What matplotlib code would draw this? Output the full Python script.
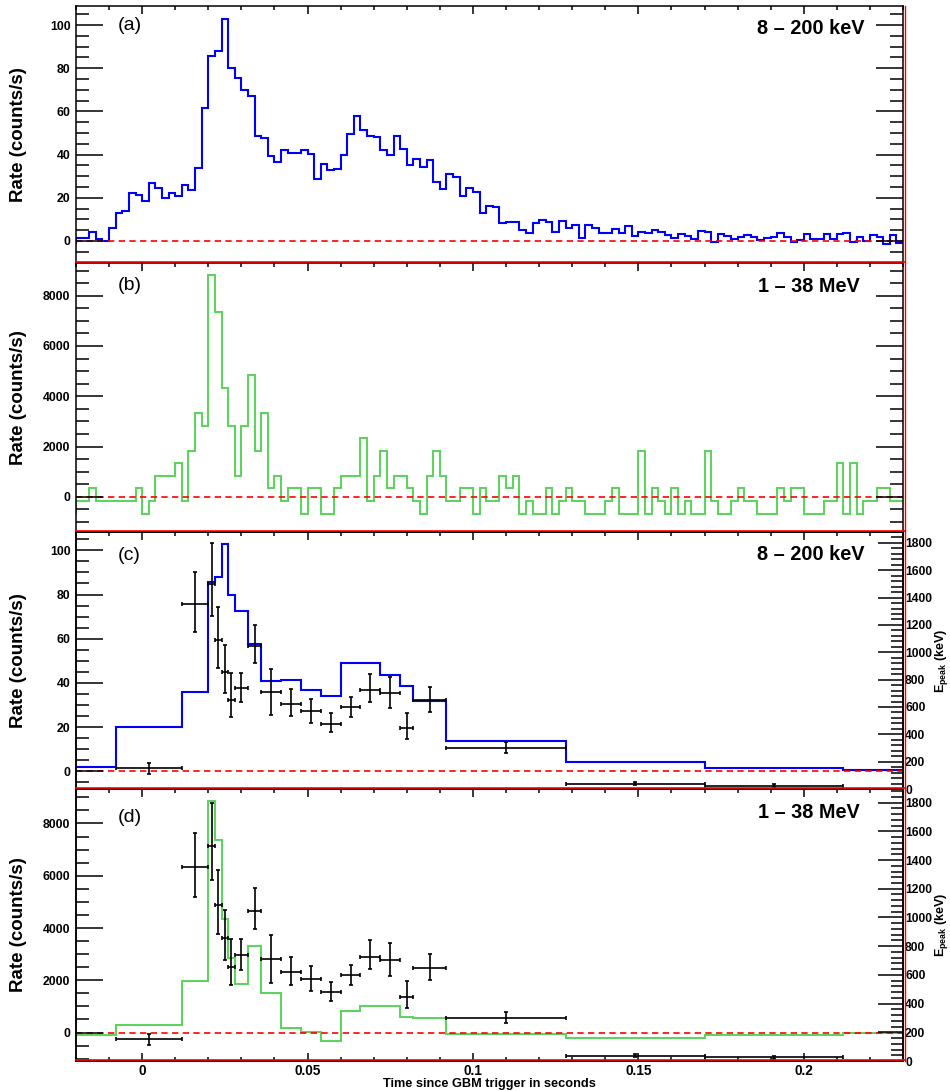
import numpy as np
import matplotlib
matplotlib.use("Agg")
import matplotlib.pyplot as plt
from matplotlib.lines import Line2D
from matplotlib.ticker import MultipleLocator, FixedLocator

plt.rcParams["font.family"] = ["Liberation Sans", "DejaVu Sans"]
plt.rcParams["mathtext.fontset"] = "custom"
plt.rcParams["mathtext.rm"] = "Liberation Sans:bold"
plt.rcParams["mathtext.bf"] = "Liberation Sans:bold"
plt.rcParams["mathtext.it"] = "Liberation Sans:bold"

# --- 2 ms light curves, first bin starts at t = -0.022 s (just left of the view) ---
bin_start = -0.022
bin_width = 0.002

rate_low = [  # 8 - 200 keV (counts/s)
    -1.0,
    1.5, 1.5, 4.2, 1.0, 0.0, 6.2, 12.8, 13.9, 22.4, 21.3,
    18.5, 26.7, 24.7, 19.9, 22.4, 20.8, 25.9, 23.5, 34.0, 61.4,
    85.5, 88.0, 103.0, 80.0, 75.5, 69.8, 67.0, 48.6, 47.5, 39.5,
    36.6, 42.0, 40.9, 40.9, 42.0, 40.4, 28.9, 35.8, 32.9, 33.3,
    40.0, 49.5, 58.0, 51.5, 48.5, 48.1, 42.0, 39.8, 48.8, 42.4,
    35.3, 37.8, 34.4, 37.5, 27.5, 23.9, 31.0, 29.5, 20.8, 24.7,
    22.8, 13.0, 16.4, 15.5, 8.4, 8.6, 9.0, 5.1, 3.5, 8.5,
    9.7, 9.0, 4.2, 9.3, 5.9, 7.6, 1.4, 7.6, 6.0, 3.7,
    3.9, 5.7, 3.5, 7.1, 2.5, 4.2, 3.9, 5.1, 4.2, 2.9,
    1.4, 3.4, 2.2, 0.9, 4.8, 4.2, -0.6, 3.4, 2.2, 0.8,
    1.7, 2.6, 1.7, 0.3, 1.2, 1.7, 3.5, 1.7, -0.6, 0.3,
    3.2, 0.8, 0.8, 3.1, 0.8, 3.4, 3.9, -0.6, 2.0, 0.2,
    2.8, 1.7, -1.5, 2.6, -0.8,
]

rate_high = [  # 1 - 38 MeV (counts/s)
    -665,
    -165, -165, 335, -165, -165, -165, -165, -165, -165, 335,
    -665, -165, 835, 835, 835, 1335, -165, 1835, 3335, 2835,
    8835, 7335, 4335, 2835, 835, 2835, 4835, 1835, 3335, 335,
    835, -165, 335, 335, -665, 335, 335, -665, -665, 335,
    835, 835, 835, 2335, -165, 835, 1835, 335, 835, 835,
    335, -165, -665, 835, 1835, 835, -165, -165, 335, 335,
    -665, 335, -165, -165, 835, 335, 835, -665, -165, -665,
    -665, 335, -665, -165, 335, -165, -165, -665, -665, -665,
    -165, 335, -665, -665, -665, 1835, -665, 335, -165, -665,
    335, -665, -165, -665, -665, 1835, -165, -665, -665, -165,
    335, -165, -165, -665, -665, -665, 335, -165, 335, 335,
    -665, -665, -665, -165, -165, 1335, -665, 1335, -665, -165,
    -165, 335, 335, -165, -165,
]

# --- Bayesian-block light curves ---
block_edges = [-0.02, -0.008, 0.012, 0.020, 0.022, 0.024, 0.026, 0.028,
               0.032, 0.036, 0.042, 0.048, 0.054, 0.060, 0.066, 0.072,
               0.078, 0.082, 0.092, 0.128, 0.170, 0.212, 0.23]
block_low = [1.8, 20.2, 36.1, 85.6, 87.9, 102.7, 79.8, 72.5, 57.8, 40.8,
             41.1, 37.0, 34.0, 48.9, 49.2, 43.6, 38.7, 31.6, 13.8, 4.1,
             1.5, 0.8]
block_high = [-77, 282, 1972, 8860, 7350, 4353, 2855, 1844, 3329, 1511,
              192, 10, -320, 832, 1024, 1024, 602, 538, -38, -218,
              -77, 0]

# --- Epeak per time interval (keV) ---
epeak_t = [0.002, 0.016, 0.021, 0.023, 0.025, 0.027, 0.030, 0.034, 0.039, 0.045,
           0.051, 0.057, 0.063, 0.069, 0.075, 0.080, 0.087, 0.110, 0.149, 0.191]
epeak_dt = [0.010, 0.004, 0.001, 0.001, 0.001, 0.001, 0.002, 0.002, 0.003, 0.003,
            0.003, 0.003, 0.003, 0.003, 0.003, 0.002, 0.005, 0.018, 0.021, 0.021]
epeak = [150, 1355, 1498, 1087, 855, 652, 736, 1045, 708, 623,
         570, 478, 597, 725, 701, 449, 649, 303, 38, 25]
epeak_lo = [40, 210, 235, 205, 152, 122, 103, 126, 167, 92,
            85, 63, 70, 85, 107, 80, 83, 38, 10, 8]
epeak_hi = [40, 235, 300, 241, 200, 195, 114, 157, 168, 105,
            90, 75, 75, 118, 118, 105, 95, 38, 10, 8]

panel_tags = ["(a)", "(b)", "(c)", "(d)"]
band_labels = ["8 \u2013 200 keV", "1 \u2013 38 MeV", "8 \u2013 200 keV", "1 \u2013 38 MeV"]
x_ticks = [0, 0.05, 0.1, 0.15, 0.2]
x_tick_labels = ["0", "0.05", "0.1", "0.15", "0.2"]

BLUE = "#0000ff"
GREEN = "#5fd35f"

W, H = 950, 1091
LEFT, RIGHT = 76, 903
panel_px = [(6, 263), (263, 532), (532, 789), (789, 1061)]
ylims = [(-10.2, 108.8), (-1400, 9300), (-8.0, 108.3), (-1090, 9320)]
epeak_lims = [None, None, (0, 1880), (0, 1895)]
tag_y = [0.926, 0.918, 0.907, 0.897]
band_y = [0.914, 0.912, 0.912, 0.914]
band_x = [0.954, 0.948, 0.954, 0.948]

fig = plt.figure(figsize=(W / 100, H / 100), dpi=100)

bin_edges = np.round(bin_start + bin_width * np.arange(len(rate_low) + 1), 4)

axes = []
for i, (top, bottom) in enumerate(panel_px):
    ax = fig.add_axes([LEFT / W, 1 - bottom / H, (RIGHT - LEFT) / W, (bottom - top) / H])
    axes.append(ax)
    ax.set_xlim(-0.02, 0.23)
    ax.set_ylim(*ylims[i])

    if i == 0:
        ax.stairs(rate_low, bin_edges, color=BLUE, lw=1.5, baseline=None)
    elif i == 1:
        ax.stairs(rate_high, bin_edges, color=GREEN, lw=1.5, baseline=None)
    elif i == 2:
        ax.stairs(block_low, block_edges, color=BLUE, lw=1.5, baseline=None)
    else:
        ax.stairs(block_high, block_edges, color=GREEN, lw=1.5, baseline=None)
    ax.axhline(0, color="red", lw=1.2, ls=(0, (3.8, 2.6)), zorder=1)

    # x axis
    ax.xaxis.set_major_locator(FixedLocator(x_ticks))
    ax.xaxis.set_minor_locator(MultipleLocator(0.01))
    is_last = i == 3
    ax.tick_params(axis="x", which="both", direction="in", top=True,
                   bottom=is_last, labelbottom=is_last, width=1.1)
    ax.tick_params(axis="x", which="major", length=6.0, labelsize=9.8, pad=2.0)
    ax.tick_params(axis="x", which="minor", length=3.0)
    if is_last:
        ax.set_xticklabels(x_tick_labels, fontweight="bold")

    # y axis
    if i in (0, 2):
        ax.yaxis.set_major_locator(MultipleLocator(20))
        ax.yaxis.set_minor_locator(MultipleLocator(5))
    else:
        ax.yaxis.set_major_locator(MultipleLocator(2000))
        ax.yaxis.set_minor_locator(MultipleLocator(500))
    mirror = i < 2
    ax.tick_params(axis="y", which="both", direction="in", left=True, right=mirror,
                   width=1.1, labelsize=8.8, pad=4)
    ax.tick_params(axis="y", which="major", length=19.5)
    ax.tick_params(axis="y", which="minor", length=9.5)
    for lab in ax.get_yticklabels():
        lab.set_fontweight("bold")
    for sp in ax.spines.values():
        sp.set_linewidth(1.1)

    ax.text(0.051, tag_y[i], panel_tags[i], transform=ax.transAxes,
            fontsize=14, ha="left", va="center")
    ax.text(band_x[i], band_y[i], band_labels[i], transform=ax.transAxes,
            fontsize=14.3, fontweight="bold", ha="right", va="center")

    cy = 1 - (top + bottom) / 2 / H

    # Epeak on a second axis for the block panels
    if epeak_lims[i] is not None:
        if i == 3:
            ax.tick_params(axis="y", which="both", right=False)
        tw = ax.twinx()
        tw.set_ylim(*epeak_lims[i])
        tw.errorbar(epeak_t, epeak, xerr=epeak_dt, yerr=[epeak_lo, epeak_hi],
                    fmt="none", ecolor="black", elinewidth=1.2, capsize=1.6,
                    capthick=1.2, zorder=3)
        tw.yaxis.set_major_locator(MultipleLocator(200))
        tw.yaxis.set_minor_locator(MultipleLocator(40))
        tw.tick_params(axis="y", which="both", direction="in", width=1.1,
                       labelsize=8.7, pad=1.5)
        tw.tick_params(axis="y", which="major", length=18)
        tw.tick_params(axis="y", which="minor", length=8.6)
        for lab in tw.get_yticklabels():
            lab.set_fontweight("bold")
        for sp in tw.spines.values():
            sp.set_linewidth(1.1)
        fig.text(942 / W, cy, r"$\mathbf{E_{peak}}$ (keV)", rotation=90,
                 fontsize=9, fontweight="bold", ha="center", va="center")

    fig.text(19 / W, cy, "Rate (counts/s)", rotation=90, fontsize=13.5,
             fontweight="bold", ha="center", va="center")

# red pad frame lines along the panel boundaries and the right edge
for _, bottom in panel_px:
    fig.add_artist(Line2D([LEFT / W, (RIGHT + 1.5) / W], [1 - (bottom - 1) / H] * 2,
                          color="red", lw=1.2, transform=fig.transFigure, zorder=10))
fig.add_artist(Line2D([(RIGHT + 1.5) / W] * 2, [1 - 6 / H, 1 - 1061 / H],
                      color="red", lw=1.0, transform=fig.transFigure, zorder=10))

fig.text(489.5 / W, 1 - 1086.5 / H, "Time since GBM trigger in seconds",
         fontsize=9.2, fontweight="bold", ha="center", va="baseline")

fig.savefig("out.png", dpi=100, facecolor="white")
